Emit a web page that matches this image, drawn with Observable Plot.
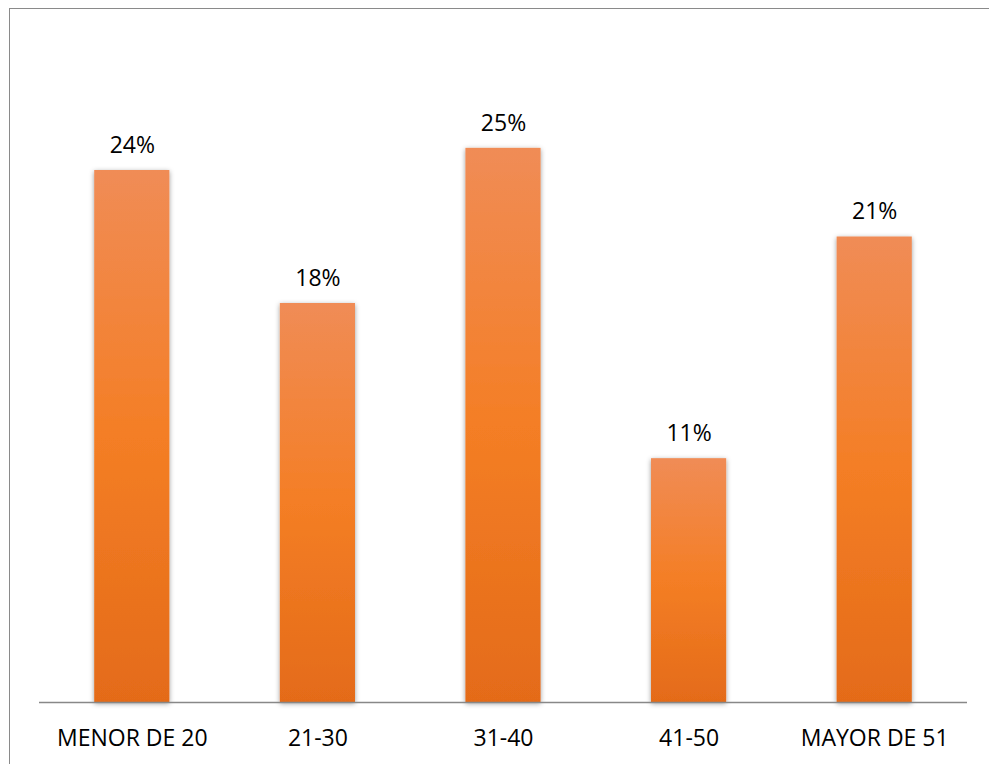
<!DOCTYPE html>
<html>
<head>
<meta charset="utf-8">
<script src="https://cdn.jsdelivr.net/npm/d3@7"></script>
<script src="https://cdn.jsdelivr.net/npm/@observablehq/plot@0.6"></script>
<style>
  html, body { margin: 0; padding: 0; background: #fff; overflow: hidden; }
  #frame { position: absolute; left: 9px; top: 8px; width: 1100px; height: 900px;
           border-left: 1px solid #8a8a8a; border-top: 1px solid #8a8a8a; box-sizing: border-box; }
  #chart { position: absolute; left: 0; top: 0; }
</style>
</head>
<body>
<div id="frame"></div>
<div id="chart"></div>
<script>
const categories = ["MENOR DE 20", "21-30", "31-40", "41-50", "MAYOR DE 51"];
const values = [24, 18, 25, 11, 21];
const data = categories.map((c, i) => ({category: c, value: values[i]}));

const font = "'Open Sans', 'Liberation Sans', sans-serif";

const chart = Plot.plot({
  width: 989,
  height: 764,
  marginLeft: 39,
  marginRight: 22,
  marginTop: 37,
  marginBottom: 62,
  style: {fontFamily: font, background: "transparent", color: "#000", overflow: "visible"},
  x: {domain: categories, paddingInner: 0.595, paddingOuter: 0.2975, round: false, label: null},
  y: {domain: [0, 30], axis: null},
  marks: [
    Plot.barY(data, {x: "category", y: "value", fill: "url(#barGrad)"}),
    Plot.ruleY([0], {stroke: "#888888", strokeWidth: 1.3}),
    Plot.text(data, {x: "category", y: "value", text: d => d.value + "%", dy: -25,
                     fontSize: 23, fill: "#000"}),
    Plot.axisX({tickSize: 0, tickPadding: 27, fontSize: 23, label: null, fill: "#000"})
  ]
});

const svg = d3.select(chart);
const defs = svg.insert("defs", ":first-child");
const g = defs.append("linearGradient").attr("id", "barGrad")
  .attr("x1", 0).attr("y1", 0).attr("x2", 0).attr("y2", 1);
g.append("stop").attr("offset", "0%").attr("stop-color", "#F08C56");
g.append("stop").attr("offset", "50%").attr("stop-color", "#F47E25");
g.append("stop").attr("offset", "100%").attr("stop-color", "#E46B19");
const f = defs.append("filter").attr("id", "shadow")
  .attr("x", "-20%").attr("y", "-5%").attr("width", "140%").attr("height", "110%");
f.append("feDropShadow").attr("dx", 0).attr("dy", 1.5).attr("stdDeviation", 2.5)
  .attr("flood-color", "#000").attr("flood-opacity", 0.4);
svg.selectAll("rect").each(function() {
  const own = this.getAttribute("fill");
  const parent = this.parentNode && this.parentNode.getAttribute && this.parentNode.getAttribute("fill");
  if ((own && own.includes("barGrad")) || (parent && parent.includes("barGrad"))) {
    this.setAttribute("filter", "url(#shadow)");
  }
});

document.getElementById("chart").appendChild(chart);
</script>
</body>
</html>
